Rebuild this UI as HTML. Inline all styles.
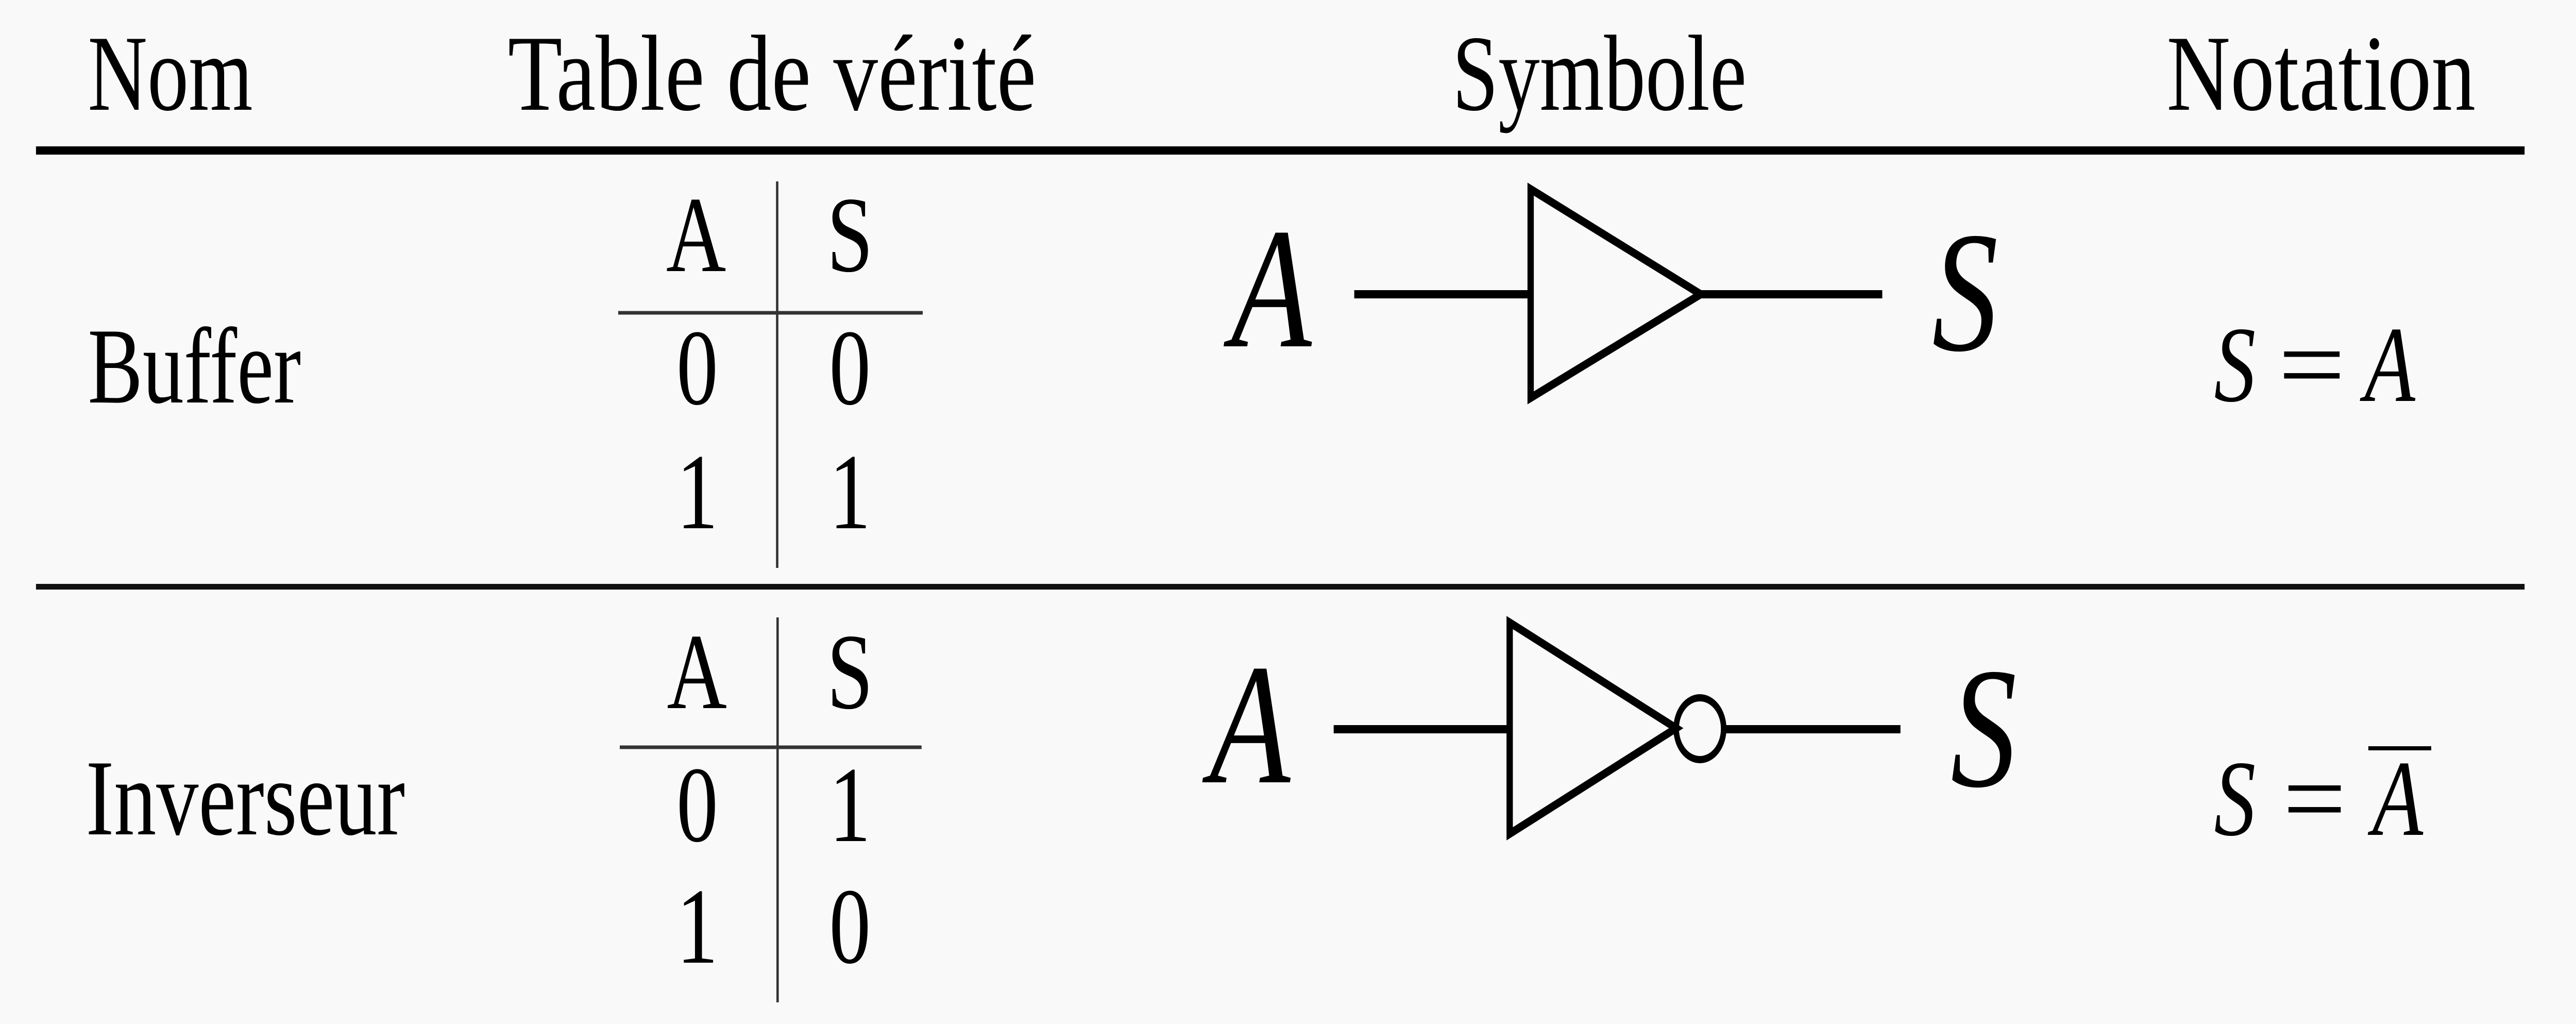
<!DOCTYPE html>
<html>
<head>
<meta charset="utf-8">
<style>
  html, body { margin: 0; padding: 0; width: 100%; height: 100%; overflow: hidden; background: #f9f9f9; }
  svg { display: block; width: 100vw; height: 100vh; }
</style>
</head>
<body>
<svg xmlns="http://www.w3.org/2000/svg" viewBox="0 0 6513 1987" preserveAspectRatio="none">
  <rect x="0" y="0" width="6513" height="1987" fill="#f9f9f9"/>

  <!-- Rules -->
  <rect x="91" y="284" width="6292" height="16" fill="#000"/>
  <rect x="91" y="1133" width="6292" height="11" fill="#111"/>

  <g font-family="'Liberation Serif', serif" font-size="210" fill="#000">
    <!-- Headers -->
    <text x="222" y="213" textLength="417" lengthAdjust="spacingAndGlyphs">Nom</text>
    <text x="1284" y="213" textLength="1336" lengthAdjust="spacingAndGlyphs">Table de vérité</text>
    <text x="3672" y="213" textLength="744" lengthAdjust="spacingAndGlyphs">Symbole</text>
    <text x="5478" y="213" textLength="781" lengthAdjust="spacingAndGlyphs">Notation</text>

    <!-- Row names -->
    <text x="222" y="781" textLength="539" lengthAdjust="spacingAndGlyphs">Buffer</text>
    <text x="217" y="1619" textLength="807" lengthAdjust="spacingAndGlyphs">Inverseur</text>

    <!-- Truth tables -->
    <g text-anchor="middle">
      <text x="1760" y="526">A</text>
      <text x="2149" y="526">S</text>
      <text x="1763" y="784">0</text>
      <text x="2149" y="784">0</text>
      <text x="1763" y="1025">1</text>
      <text x="2149" y="1025">1</text>

      <text x="1762" y="1374">A</text>
      <text x="2149" y="1374">S</text>
      <text x="1763" y="1632">0</text>
      <text x="2149" y="1632">1</text>
      <text x="1763" y="1868">1</text>
      <text x="2149" y="1868">0</text>
    </g>
  </g>

  <!-- Truth table lines -->
  <g stroke="#333" fill="none">
    <line x1="1965" y1="352" x2="1965" y2="1102" stroke-width="6"/>
    <line x1="1563" y1="607" x2="2333" y2="607" stroke-width="7"/>
    <line x1="1966" y1="1198" x2="1966" y2="1945" stroke-width="6"/>
    <line x1="1567" y1="1450" x2="2330" y2="1450" stroke-width="7"/>
  </g>

  <!-- Gate symbols -->
  <g stroke="#000" stroke-width="16" fill="none" stroke-linejoin="miter">
    <!-- Buffer -->
    <line x1="3424" y1="571" x2="3870" y2="571"/>
    <polygon points="3870,367 3870,772 4300,571"/>
    <line x1="4300" y1="571" x2="4759" y2="571"/>
    <!-- Inverter -->
    <line x1="3372" y1="1415" x2="3817" y2="1415"/>
    <polygon points="3817,1208 3817,1618 4238,1413"/>
    <circle cx="4298" cy="1414" r="60" stroke-width="14"/>
    <line x1="4358" y1="1415" x2="4805" y2="1415"/>
  </g>

  <!-- Symbol labels (math italic) -->
  <g font-family="'Liberation Serif', serif" font-style="italic" font-size="334" fill="#000">
    <text x="3112" y="672">A</text>
    <text x="4885" y="679">S</text>
    <text x="3058" y="1518">A</text>
    <text x="4932" y="1525">S</text>
  </g>

  <!-- Notation -->
  <g font-family="'Liberation Serif', serif" font-size="210" fill="#000">
    <text x="5598" y="778" font-style="italic">S</text>
    <text x="5760" y="778" textLength="170" lengthAdjust="spacingAndGlyphs">=</text>
    <text x="5978" y="778" font-style="italic">A</text>

    <text x="5598" y="1620" font-style="italic">S</text>
    <text x="5772" y="1620" textLength="160" lengthAdjust="spacingAndGlyphs">=</text>
    <text x="5998" y="1620" font-style="italic">A</text>
  </g>
  <line x1="5988" y1="1452" x2="6147" y2="1452" stroke="#000" stroke-width="8"/>
</svg>
</body>
</html>
